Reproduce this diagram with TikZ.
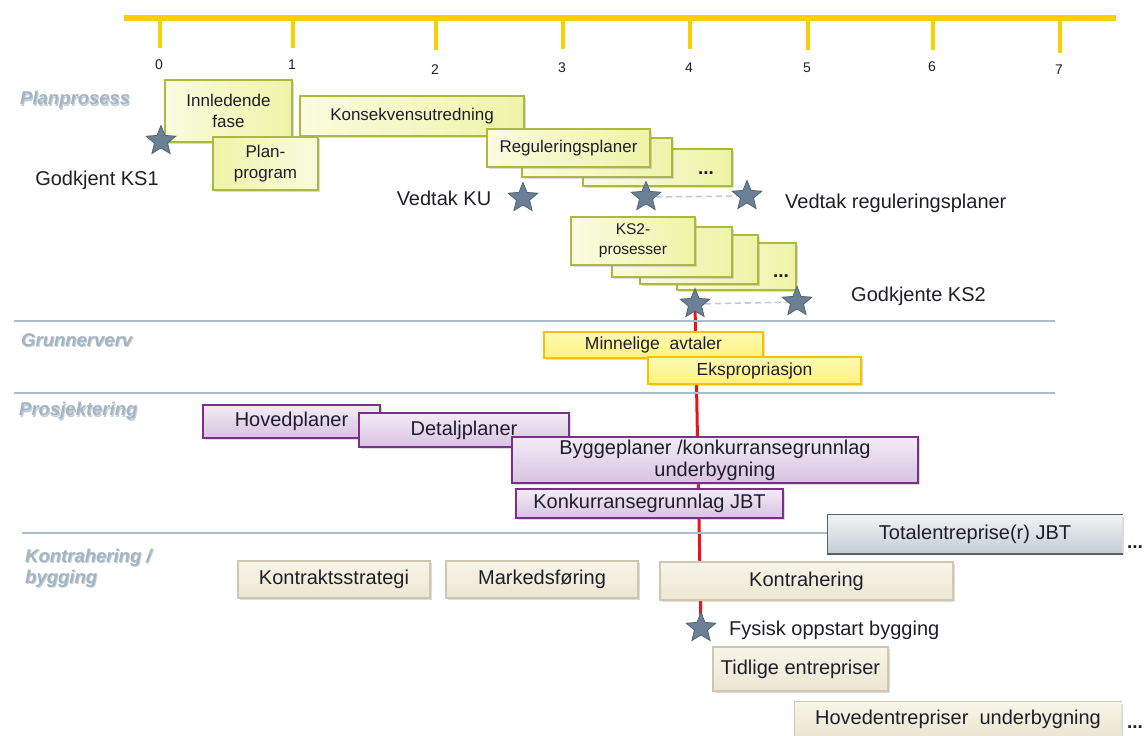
\documentclass[tikz,border=0pt]{standalone}
\usepackage{fontspec}
\setmainfont{Liberation Sans}
\usetikzlibrary{shapes.geometric,shadows}
\pgfdeclarelayer{background}
\pgfsetlayers{background,main}

\definecolor{ink}{HTML}{1E1E2A}
\definecolor{olA}{HTML}{FAFBE0}
\definecolor{olB}{HTML}{EEF4A8}
\definecolor{olivebd}{HTML}{ABBA3C}
\definecolor{ylA}{HTML}{FFFAB4}
\definecolor{ylB}{HTML}{FFF27C}
\definecolor{yellowbd}{HTML}{F2C400}
\definecolor{puA}{HTML}{F3ECF6}
\definecolor{puB}{HTML}{D8C2E2}
\definecolor{purplebd}{HTML}{7A3088}
\definecolor{gyA}{HTML}{F0F3F5}
\definecolor{gyB}{HTML}{C5CDD3}
\definecolor{graybd}{HTML}{56606A}
\definecolor{crA}{HTML}{F8F5E8}
\definecolor{crB}{HTML}{ECE6D2}
\definecolor{creambd}{HTML}{CFC7B0}
\definecolor{starfill}{HTML}{6B8094}
\definecolor{stardraw}{HTML}{4F6477}
\definecolor{sepcol}{HTML}{A9BDCC}
\definecolor{dashcol}{HTML}{BFCBD6}
\definecolor{sectcol}{HTML}{A3B5C4}
\definecolor{sectshade}{HTML}{7F93A4}
\definecolor{gold}{HTML}{F8D000}
\definecolor{milestone}{HTML}{E8141B}

% a box node spanning the corners (x1,y1)-(x2,y2), text centred
% #1 style, #2 name, #3 x1, #4 y1, #5 x2, #6 y2, #7 text
\newcommand\lanebox[7]{%
  \node[#1, minimum width={(#5-#3)*1pt}, minimum height={(#6-#4)*1pt}]
    (#2) at ({(#3+#5)/2},{(#4+#6)/2}) {#7};}

\begin{document}
\begin{tikzpicture}[x=1pt,y=-1pt,
  txtbox/.style={inner sep=0pt, line width=1.5pt, align=center, text=ink,
    drop shadow={shadow xshift=1.5pt, shadow yshift=-2pt, opacity=0.28}},
  olive/.style={txtbox, draw=olivebd, left color=olA, right color=olB,
    font=\fontsize{17}{21.5}\selectfont},
  yellowbox/.style={txtbox, draw=yellowbd, top color=ylA, bottom color=ylB,
    font=\fontsize{17.5}{21}\selectfont},
  purplebox/.style={txtbox, draw=purplebd, top color=puA, bottom color=puB,
    font=\fontsize{20}{22}\selectfont},
  graybox/.style={txtbox, draw=none, top color=gyA, bottom color=gyB,
    font=\fontsize{20}{22}\selectfont},
  creambox/.style={txtbox, draw=creambd, top color=crA, bottom color=crB,
    font=\fontsize{20}{22}\selectfont},
  openedge/.style={txtbox, draw=none, top color=crA, bottom color=crB,
    font=\fontsize{20}{22}\selectfont},
  milestar/.style={star, star points=5, star point ratio=2.25, minimum size=31pt,
    inner sep=0pt, fill=starfill, draw=stardraw, line width=0.8pt},
  caption/.style={text=ink, inner sep=0pt, font=\fontsize{20}{22}\selectfont},
  dots/.style={text=ink, inner sep=0pt, font=\bfseries\fontsize{19}{20}\selectfont},
  ticklabel/.style={text=ink, inner sep=0pt, font=\fontsize{14}{16}\selectfont},
  sect/.style={anchor=west, inner sep=0pt, align=left, text=sectcol,
    font=\bfseries\itshape\fontsize{18.5}{21}\selectfont},
  sectshadow/.style={sect, text=sectshade, opacity=0.45},
  sepline/.style={draw=sepcol, line width=2pt},
  dashlink/.style={draw=dashcol, line width=1.6pt, dashed, dash pattern=on 6pt off 4pt},
  redline/.style={draw=milestone, line width=3pt},
  timeline/.style={draw=gold, line width=5.5pt},
  tickline/.style={draw=gold, line width=3.5pt}
]
\useasboundingbox (0,0) rectangle (1146,736);

% ---- time axis ----
\draw[timeline] (124,18) -- (1116,18);
\foreach \x/\l/\ly/\te in {160/0/65/48, 293/1/65/48, 436/2/70/50, 563/3/68/49,
                          690/4/68/49, 808/5/68/50, 933/6/67/50, 1060/7/70/53}{
  \draw[tickline] (\x,18) -- (\x,\te);
  \node[ticklabel] (tick\l) at (\x-1,\ly) {\l};
}

% ---- lane separators ----
\draw[sepline] (14,321) -- (1055,321);
\draw[sepline] (14,393) -- (1055,393);
\draw[sepline] (22,533) -- (830,533);

% ---- lane titles ----
\node[sectshadow] (planS) at (21,101.5) {Planprosess};
\node[sect] (plan) at (20,100) {Planprosess};
\node[sectshadow] (grunnS) at (22,341.5) {Grunnerverv};
\node[sect] (grunn) at (21,340) {Grunnerverv};
\node[sectshadow] (prosjS) at (20,412.5) {Prosjektering};
\node[sect] (prosj) at (19,411) {Prosjektering};
\node[sectshadow] (kontrS) at (26,569.5) {Kontrahering /\\bygging};
\node[sect] (kontr) at (25,568) {Kontrahering /\\bygging};

% ---- Planprosess ----
\lanebox{olive}{innl}{165}{80}{292}{142}{Innledende\\fase}
\lanebox{olive}{ku}{300}{96}{524}{136}{Konsekvensutredning}
\lanebox{olive, left color=olB, right color=olA}{planprog}{213}{137}{318}{190}{Plan-\\program}

\lanebox{olive}{reg3}{583}{149}{732}{186}{}
\lanebox{olive}{reg2}{522}{138}{672}{177}{}
\lanebox{olive}{reg1}{487}{129}{650}{167}{Reguleringsplaner}
\node[dots] (regdots) at (706,173) {...};

\lanebox{olive}{ks4}{677}{243}{796}{290}{}
\lanebox{olive}{ks3}{640}{235}{758}{284}{}
\lanebox{olive}{ks2b}{612}{227}{732}{277}{}
\lanebox{olive, font=\fontsize{15.5}{20}\selectfont}{ks1}{571}{217}{695}{265}{KS2-\\prosesser}
\node[dots] (ksdots) at (781,276) {...};

% milestones
\node[milestar] (sKS1) at (161,141) {};
\node[caption] (tKS1) at (97,180) {Godkjent KS1};
\node[milestar] (sKU) at (523,198) {};
\node[caption] (tKU) at (444,198) {Vedtak KU};
\node[milestar] (sRegA) at (646,197) {};
\node[milestar] (sRegB) at (747,196) {};
\node[caption, anchor=west] (tReg) at (785,203) {Vedtak reguleringsplaner};
\node[milestar] (sKS2A) at (695,304) {};
\node[milestar] (sKS2B) at (797,302) {};
\node[caption, anchor=west] (tKS2) at (851,296) {Godkjente KS2};

% ---- Grunnerverv ----
\lanebox{yellowbox}{minn}{544}{332}{763}{358}{Minnelige\ \ avtaler}
\lanebox{yellowbox}{ekspr}{648}{357}{861}{384}{Ekspropriasjon}

% ---- Prosjektering ----
\lanebox{purplebox}{hovedpl}{203}{405}{380}{438}{Hovedplaner}
\lanebox{purplebox}{detalj}{359}{413}{569}{447}{Detaljplaner}
\lanebox{purplebox}{bygge}{512}{437}{918}{483}{Byggeplaner /konkurransegrunnlag\\underbygning}
\lanebox{purplebox}{konkgr}{516}{489}{783}{518}{Konkurransegrunnlag JBT}

% ---- Kontrahering / bygging ----
\lanebox{graybox}{total}{828}{515}{1122}{553}{Totalentreprise(r) JBT}
\draw[draw=graybd, line width=1.5pt] (total.north east) -- (total.north west)
  -- (total.south west) -- (total.south east);
\node[dots] (totdots) at (1135,547) {...};

\lanebox{creambox}{strategi}{238}{561}{430}{598}{Kontraktsstrategi}
\lanebox{creambox}{marked}{446}{561}{638}{598}{Markedsføring}
\lanebox{creambox}{kontrah}{660}{562}{953}{600}{Kontrahering}

\node[milestar] (sFys) at (701,628) {};
\node[caption, anchor=west] (tFys) at (729,630) {Fysisk oppstart bygging};

\lanebox{creambox}{tidlige}{713}{647}{888}{691}{Tidlige entrepriser}
\lanebox{openedge}{hovedentr}{795}{702}{1121}{736}{Hovedentrepriser\ \ underbygning}
\draw[draw=creambd, line width=1.5pt] (hovedentr.south west) -- (hovedentr.north west)
  -- (hovedentr.north east);
\node[dots] (hovdots) at (1135,727) {...};

% ---- links behind the boxes ----
\begin{pgfonlayer}{background}
  \draw[redline] (sKS2A.center) -- (sFys.center);
  \draw[dashlink] (sRegA) -- (sRegB);
  \draw[dashlink] (sKS2A) -- (sKS2B);
\end{pgfonlayer}
\end{tikzpicture}
\end{document}
